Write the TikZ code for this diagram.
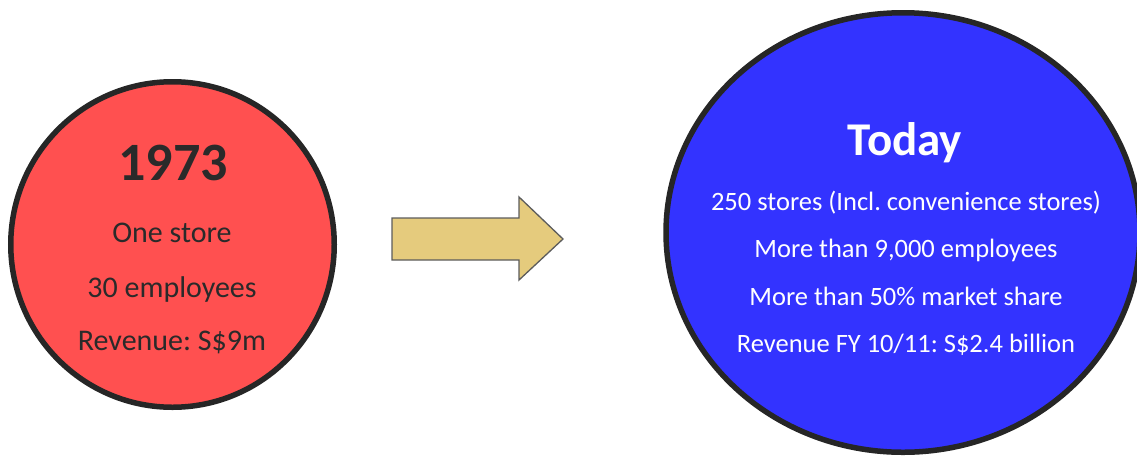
\documentclass[tikz,border=0pt]{standalone}
\usepackage{fontspec}
\setmainfont{Carlito}
\usetikzlibrary{shapes.geometric}
\definecolor{redfill}{HTML}{FF5050}
\definecolor{bluefill}{HTML}{3333FF}
\definecolor{arrowfill}{HTML}{E5CB7D}
\definecolor{edge}{HTML}{262626}
\definecolor{darktext}{HTML}{2A2A2A}
\frenchspacing
\tikzset{
  bubble/.style={ellipse, draw=edge, line width=5.5pt, inner sep=0pt},
  title/.style={anchor=base, font=\fontsize{#1}{#1}\selectfont\bfseries},
  line/.style={anchor=base, font=\fontsize{#1}{#1}\selectfont},
  blockarrow/.style={fill=arrowfill, draw=edge!75, line width=1.3pt, line join=miter}
}
\begin{document}
\begin{tikzpicture}[x=1pt,y=-1pt]
\useasboundingbox (0,0) rectangle (1137,456);
% circles
\node[bubble, fill=redfill, minimum width=323.5pt, minimum height=325.5pt] (past) at (172.5,244.5) {};
\node[bubble, fill=bluefill, minimum width=474pt, minimum height=439.5pt] (today) at (903,232.5) {};
% red texts
\node[title=54, text=darktext] (t1973) at (173,180) {1973};
\node[line=30, text=darktext] (p1) at (172,242) {One store};
\node[line=30, text=darktext] (p2) at (172,297) {30 employees};
\node[line=30, text=darktext] (p3) at (172,350) {Revenue: S\$9m};
% blue texts
\node[title=47, text=white] (ttoday) at (905,155) {Today};
\node[line=26.5, text=white] (q1) at (906,210) {250 stores (Incl. convenience stores)};
\node[line=26.5, text=white] (q2) at (906,257) {More than 9,000 employees};
\node[line=26.5, text=white] (q3) at (906,305) {More than 50\% market share};
\node[line=26.5, text=white] (q4) at (906,352) {Revenue FY 10/11: S\$2.4 billion};
% arrow
\draw[blockarrow] (392,218) -- (519,218) -- (519,197) -- (563,239) -- (519,280) -- (519,260) -- (392,260) -- cycle;
\end{tikzpicture}
\end{document}
